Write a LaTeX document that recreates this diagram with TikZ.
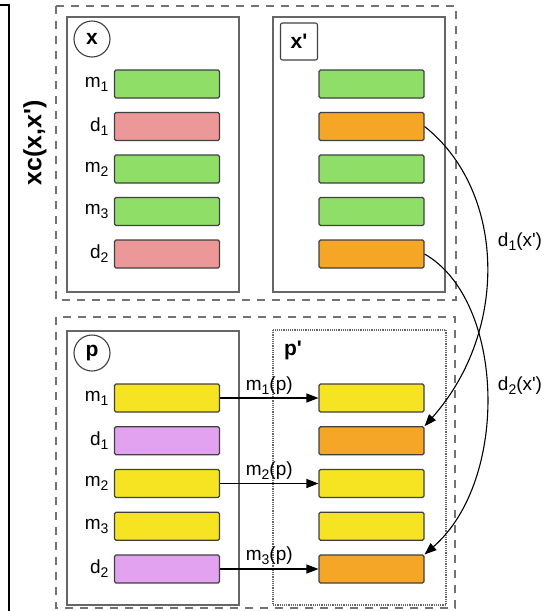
\documentclass[tikz,border=0pt]{standalone}
\usepackage{fontspec}
\setmainfont{Liberation Sans}
\usetikzlibrary{arrows.meta}

\definecolor{geneGreen}{RGB}{142,222,104}
\definecolor{genePink}{RGB}{236,152,152}
\definecolor{geneOrange}{RGB}{245,166,38}
\definecolor{geneYellow}{RGB}{246,228,34}
\definecolor{geneViolet}{RGB}{226,162,240}

\newcommand{\lab}[2]{#1\raisebox{-0.4ex}{\fontsize{14}{14}\selectfont #2}}

\tikzset{
  gene/.style={draw=black!75, line width=1.1pt, rounded corners=1.5pt,
    minimum width=105pt, minimum height=28pt, inner sep=0pt},
  frame/.style={draw=black!60, line width=1.5pt},
  group/.style={draw=black!55, line width=1.9pt, dash pattern=on 8pt off 7pt},
  map/.style={-{Triangle[length=12pt,width=9pt]}, line width=1.1pt},
  tag/.style={draw=black!75, line width=1.1pt, inner sep=0pt,
    font=\bfseries\fontsize{21}{21}\selectfont},
}

\begin{document}
\begin{tikzpicture}[x=1pt,y=-1pt,font=\fontsize{19}{22}\selectfont]
\useasboundingbox (0,0) rectangle (546,611);

% bracket and crossover label
\draw[line width=1.6pt] (0,5) -- (9,5) -- (9,611);
\node[rotate=90, font=\bfseries\fontsize{25}{28}\selectfont] (xclab) at (35,143) {xc(x,x\textquotesingle)};

% dashed groups
\draw[group] (56,6) rectangle (456,300);
\draw[group] (56,317) rectangle (455,608);

% individuals
\draw[frame] (67,17) rectangle (239,292);
\draw[frame] (273,17) rectangle (445,292);
\draw[frame] (67,331) rectangle (239,605);
\draw[draw=black!60, line width=1.2pt, densely dotted] (273,330) rectangle (446,605);

\node[tag, circle, minimum size=36pt] (xtag) at (92,39) {x};
\node[tag, rectangle, rounded corners=2pt, minimum size=37pt] (xptag) at (299,41.5) {x\textquotesingle};
\node[tag, circle, minimum size=36pt] (ptag) at (92,353) {p};
\node[font=\bfseries\fontsize{21}{21}\selectfont] (pptag) at (293,350) {p\textquotesingle};

% top genes
\foreach \row/\lt/\ls/\cl/\cr [count=\i from 0] in
  {m1/m/1/geneGreen/geneGreen, d1/d/1/genePink/geneOrange,
   m2/m/2/geneGreen/geneGreen, m3/m/3/geneGreen/geneGreen,
   d2/d/2/genePink/geneOrange}{
  \node[gene, fill=\cl] (x\row) at (167,{84+42.5*\i}) {};
  \node[left=2pt] (xl\row) at (x\row.west) {\lab{\lt}{\ls}};
  \node[gene, fill=\cr] (xp\row) at (371.5,{84+42.5*\i}) {};
}

% bottom genes
\foreach \row/\lt/\ls/\cl/\cr [count=\i from 0] in
  {m1/m/1/geneYellow/geneYellow, d1/d/1/geneViolet/geneOrange,
   m2/m/2/geneYellow/geneYellow, m3/m/3/geneYellow/geneYellow,
   d2/d/2/geneViolet/geneOrange}{
  \node[gene, fill=\cl] (p\row) at (167,{398+42.75*\i}) {};
  \node[left=2pt] (pl\row) at (p\row.west) {\lab{\lt}{\ls}};
  \node[gene, fill=\cr] (pp\row) at (371.5,{398+42.75*\i}) {};
}

% mappings
\draw[map] (pm1.east) -- node[above=0pt] (mp1) {\lab{m}{1}(p)} (ppm1.west);
\draw[map] (pm2.east) -- node[above=0pt] (mp2) {\lab{m}{2}(p)} (ppm2.west);
\draw[map] (pd2.east) -- node[above=0pt] (mp3) {\lab{m}{3}(p)} (ppd2.west);

\draw[map] (xpd1.east) .. controls (505,190) and (510,330) .. (ppd1.north east);
\draw[map] (xpd2.east) .. controls (505,300) and (510,480) .. (ppd2.north east);
\node (dx1) at (520,242) {\lab{d}{1}(x\textquotesingle)};
\node (dx2) at (520,386) {\lab{d}{2}(x\textquotesingle)};
\end{tikzpicture}
\end{document}
